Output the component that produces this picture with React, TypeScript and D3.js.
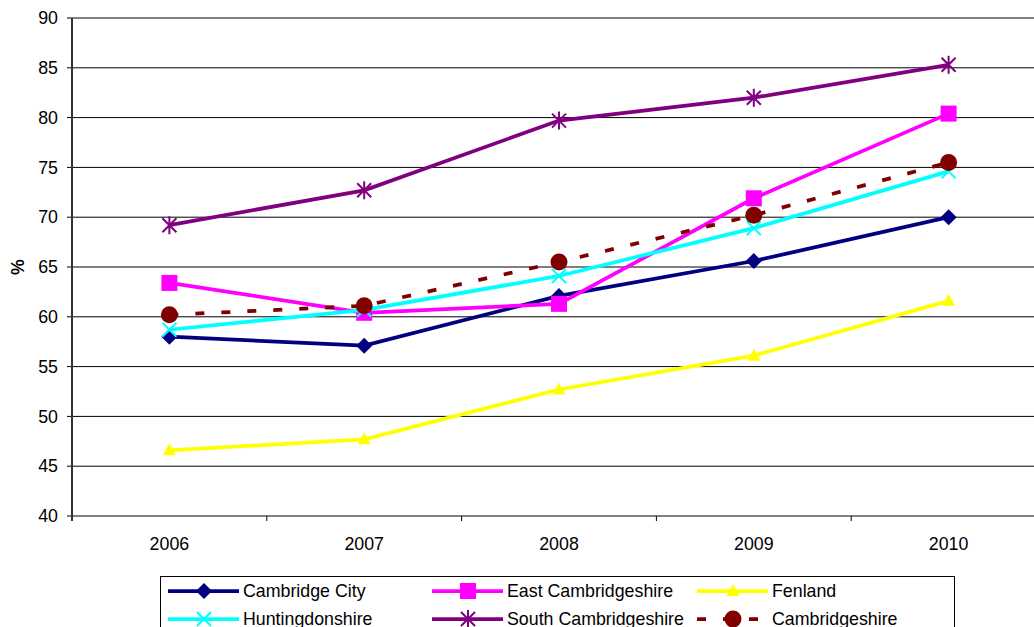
import React from "react";
import * as d3 from "d3";

const years = ["2006", "2007", "2008", "2009", "2010"];
const yTicks = [40, 45, 50, 55, 60, 65, 70, 75, 80, 85, 90];

const cambridgeCity = [58.0, 57.1, 62.1, 65.6, 70.0];
const eastCambridgeshire = [63.4, 60.4, 61.3, 71.9, 80.4];
const fenland = [46.6, 47.7, 52.7, 56.1, 61.6];
const huntingdonshire = [58.7, 60.7, 64.1, 68.9, 74.6];
const southCambridgeshire = [69.2, 72.7, 79.7, 82.0, 85.3];
const cambridgeshire = [60.2, 61.1, 65.5, 70.2, 75.5];

type Marker = "diamond" | "square" | "triangle" | "x" | "star" | "circle";
const series: { name: string; values: number[]; color: string; marker: Marker; dashed?: boolean }[] = [
  { name: "Cambridge City", values: cambridgeCity, color: "#000080", marker: "diamond" },
  { name: "East Cambridgeshire", values: eastCambridgeshire, color: "#FF00FF", marker: "square" },
  { name: "Fenland", values: fenland, color: "#FFFF00", marker: "triangle" },
  { name: "Huntingdonshire", values: huntingdonshire, color: "#00FFFF", marker: "x" },
  { name: "South Cambridgeshire", values: southCambridgeshire, color: "#800080", marker: "star" },
  { name: "Cambridgeshire", values: cambridgeshire, color: "#800000", marker: "circle", dashed: true },
];

const W = 1034, H = 627;
const left = 72, top = 18, bottom = 516, right = 1046;
const font = "Liberation Sans, Arial, sans-serif";
const fs = 17.8;

function MarkerShape({ type, x, y, color }: { type: Marker; x: number; y: number; color: string }) {
  switch (type) {
    case "diamond":
      return <path d={`M${x},${y - 8}L${x + 8},${y}L${x},${y + 8}L${x - 8},${y}Z`} fill={color} />;
    case "square":
      return <rect x={x - 8} y={y - 8} width={16} height={16} fill={color} />;
    case "triangle":
      return <path d={`M${x},${y - 7}L${x + 6.5},${y + 5}L${x - 6.5},${y + 5}Z`} fill={color} />;
    case "x":
      return <path d={`M${x - 7},${y - 7}L${x + 7},${y + 7}M${x - 7},${y + 7}L${x + 7},${y - 7}`} stroke={color} strokeWidth={2} />;
    case "star":
      return (
        <path
          d={`M${x - 7},${y - 7}L${x + 7},${y + 7}M${x - 7},${y + 7}L${x + 7},${y - 7}M${x},${y - 9}L${x},${y + 9}`}
          stroke={color}
          strokeWidth={2}
        />
      );
    case "circle":
      return <circle cx={x} cy={y} r={8.5} fill={color} />;
  }
}

export default function App() {
  const x = d3.scaleBand<string>().domain(years).range([left, right]);
  const y = d3.scaleLinear().domain([40, 90]).range([bottom, top]);
  const cx = (yr: string) => (x(yr) as number) + x.bandwidth() / 2;
  const line = d3
    .line<number>()
    .x((_, i) => cx(years[i]))
    .y((d) => y(d));

  const legendCols = [168, 432, 697];
  const legendRows = [591, 619];

  return (
    <svg width={W} height={H} style={{ position: "absolute", left: 0, top: 0, background: "#fff" }}>
      {yTicks.map((t) => (
        <g key={t}>
          <line x1={left} x2={W} y1={y(t)} y2={y(t)} stroke={t === 40 ? "#808080" : "#000"} strokeWidth={1} />
          <line x1={left - 5} x2={left} y1={y(t)} y2={y(t)} stroke="#000" />
          <text x={left - 14} y={y(t)} dy="0.35em" textAnchor="end" fontFamily={font} fontSize={fs} fill="#000">
            {t}
          </text>
        </g>
      ))}
      <line x1={left} x2={W} y1={bottom} y2={bottom} stroke="#808080" strokeWidth={2} />
      <line x1={left} x2={left} y1={top} y2={bottom + 5} stroke="#333" strokeWidth={2} />
      {years.map((yr, i) => (
        <g key={yr}>
          {i > 0 && <line x1={x(yr)} x2={x(yr)} y1={bottom} y2={bottom + 5} stroke="#000" />}
          <text x={cx(yr)} y={bottom + 28} dy="0.35em" textAnchor="middle" fontFamily={font} fontSize={fs} fill="#000">
            {yr}
          </text>
        </g>
      ))}
      <text
        transform={`translate(24,${(top + bottom) / 2}) rotate(-90)`}
        textAnchor="middle"
        fontFamily={font}
        fontSize={fs}
        fontWeight="bold"
        fill="#000"
      >
        %
      </text>
      {series.map((s) => (
        <g key={s.name}>
          <path
            d={line(s.values) || ""}
            fill="none"
            stroke={s.color}
            strokeWidth={3.75}
            strokeDasharray={s.dashed ? "9,17" : undefined}
          />
          {s.values.map((v, i) => (
            <MarkerShape key={i} type={s.marker} x={cx(years[i])} y={y(v)} color={s.color} />
          ))}
        </g>
      ))}
      <rect x={160.5} y={576.5} width={794} height={60} fill="#fff" stroke="#000" strokeWidth={1} />
      {series.map((s, i) => {
        const lx = legendCols[i % 3];
        const ly = legendRows[Math.floor(i / 3)];
        return (
          <g key={s.name}>
            <line
              x1={lx}
              x2={lx + 71}
              y1={ly}
              y2={ly}
              stroke={s.color}
              strokeWidth={3.75}
              strokeDasharray={s.dashed ? "9,17" : undefined}
            />
            <MarkerShape type={s.marker} x={lx + 36} y={ly} color={s.color} />
            <text x={lx + 75} y={ly} dy="0.35em" fontFamily={font} fontSize={fs} fill="#000">
              {s.name}
            </text>
          </g>
        );
      })}
    </svg>
  );
}
